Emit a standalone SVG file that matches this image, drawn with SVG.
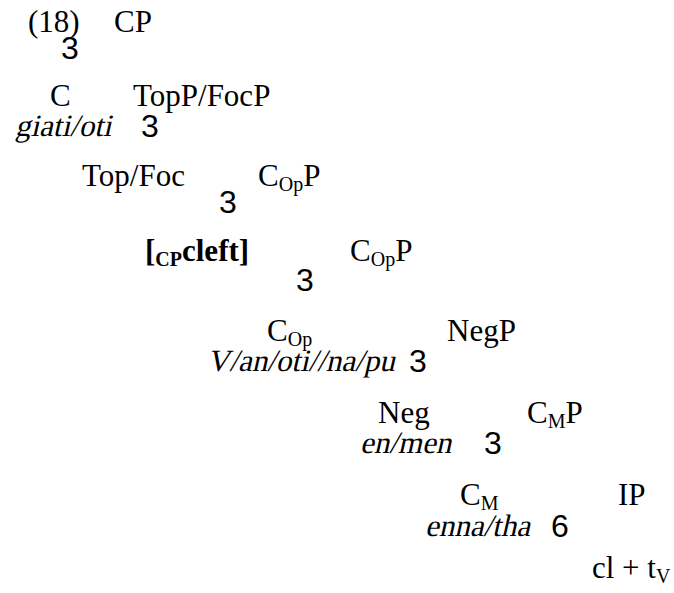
<svg xmlns="http://www.w3.org/2000/svg" width="674" height="593" viewBox="0 0 674 593">
<style>
text{font-family:"Liberation Serif","Times New Roman",serif;font-size:31px;fill:#000}
.b{font-weight:bold}
.br{font-family:"Liberation Sans",Arial,sans-serif;font-size:32px}
.sub{font-size:20px}
</style>
<rect width="674" height="593" fill="#fff"/>
<g id="label"><text x="28" y="32">(18)</text></g>
<g id="CP"><text x="114" y="32">CP</text></g>
<g id="connectors">
<text class="br" x="61" y="59">3</text>
<text class="br" x="141" y="137">3</text>
<text class="br" x="219" y="213">3</text>
<text class="br" x="296" y="291">3</text>
<text class="br" x="409" y="372">3</text>
<text class="br" x="484" y="454">3</text>
<text class="br" x="551" y="537">6</text>
</g>
<g id="C"><text x="50" y="106">C</text><text transform="translate(15,136) skewX(-13)">giati/oti</text></g>
<g id="TopP"><text x="133" y="106">TopP/FocP</text></g>
<g id="Top"><text x="82" y="186">Top/Foc</text></g>
<g id="COpP1"><text x="258" y="186">C<tspan class="sub" dy="5">Op</tspan><tspan dy="-5">P</tspan></text></g>
<g id="cleft"><text class="b" x="145" y="261">[<tspan class="sub" dy="5">CP</tspan><tspan dy="-5">cleft]</tspan></text></g>
<g id="COpP2"><text x="350" y="261">C<tspan class="sub" dy="5">Op</tspan><tspan dy="-5">P</tspan></text></g>
<g id="COp"><text x="267" y="341">C<tspan class="sub" dy="5">Op</tspan></text><text transform="translate(207,371) skewX(-13)">V/an/oti//na/pu</text></g>
<g id="NegP"><text x="447" y="341">NegP</text></g>
<g id="Neg"><text x="378" y="423">Neg</text><text transform="translate(360,453) skewX(-13)">en/men</text></g>
<g id="CMP"><text x="527" y="423">C<tspan class="sub" dy="5">M</tspan><tspan dy="-5">P</tspan></text></g>
<g id="CM"><text x="460" y="505">C<tspan class="sub" dy="5">M</tspan></text><text transform="translate(425,536) skewX(-13)">enna/tha</text></g>
<g id="IP"><text x="618" y="505">IP</text></g>
<g id="cltV"><text x="592" y="578">cl + t<tspan class="sub" dy="5">V</tspan></text></g>
</svg>
